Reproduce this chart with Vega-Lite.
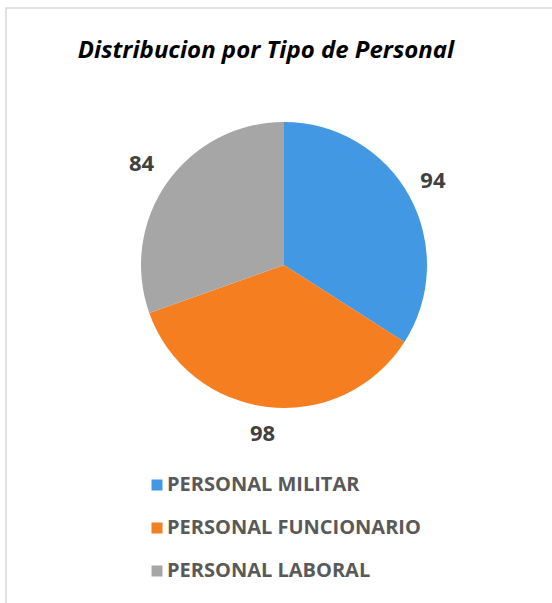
{
  "$schema": "https://vega.github.io/schema/vega-lite/v6.json",
  "width": 546,
  "height": 595,
  "autosize": {"type": "none"},
  "padding": {"left": 6, "top": 8, "right": 0, "bottom": 0},
  "background": "white",
  "view": {"stroke": "#d9d9d9", "strokeWidth": 1.5, "strokeDash": [546, 1141, 595]},
  "title": {
    "text": "Distribucion por Tipo de Personal",
    "font": "Open Sans",
    "fontSize": 24,
    "fontWeight": "bold",
    "fontStyle": "italic",
    "color": "#000000",
    "anchor": "middle",
    "frame": "group",
    "offset": -55,
    "dx": -13
  },
  "data": {
    "values": [
      {"tipo": "PERSONAL MILITAR", "valor": 94},
      {"tipo": "PERSONAL FUNCIONARIO", "valor": 98},
      {"tipo": "PERSONAL LABORAL", "valor": 84}
    ]
  },
  "transform": [{"window": [{"op": "row_number", "as": "orden"}]}],
  "encoding": {
    "theta": {"field": "valor", "type": "quantitative", "stack": true},
    "order": {"field": "orden", "type": "quantitative", "sort": "ascending"},
    "color": {
      "field": "tipo",
      "type": "nominal",
      "sort": ["PERSONAL MILITAR", "PERSONAL FUNCIONARIO", "PERSONAL LABORAL"],
      "scale": {
        "domain": ["PERSONAL MILITAR", "PERSONAL FUNCIONARIO", "PERSONAL LABORAL"],
        "range": ["#4298e2", "#f47e20", "#a6a6a6"]
      },
      "legend": {
        "orient": "none",
        "legendX": 141,
        "legendY": 467,
        "title": null,
        "direction": "vertical",
        "symbolType": "square",
        "symbolSize": 121,
        "symbolStrokeWidth": 0,
        "labelFont": "Open Sans",
        "labelFontSize": 20,
        "labelFontWeight": "bold",
        "labelColor": "#595959",
        "labelLimit": 400,
        "rowPadding": 23,
        "labelOffset": 0,
        "padding": 0
      }
    }
  },
  "layer": [
    {"mark": {"type": "arc", "outerRadius": 143, "xOffset": 5, "yOffset": -40.5}},
    {
      "mark": {"type": "text", "radius": 172, "xOffset": 3, "yOffset": -42, "font": "Open Sans", "fontWeight": "bold", "fontSize": 22},
      "encoding": {
        "text": {"field": "valor", "type": "quantitative"},
        "fill": {"value": "#404040"}
      }
    }
  ]
}
